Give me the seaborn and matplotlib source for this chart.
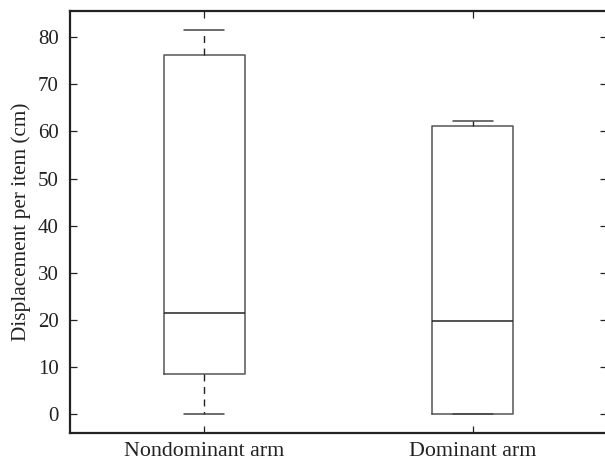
import numpy as np
import pandas as pd
import matplotlib
matplotlib.use("Agg")
import matplotlib.pyplot as plt
import seaborn as sns

# Five-number summaries (min, Q1, median, Q3, max)
categories = ["Nondominant arm", "Dominant arm"]
nondominant_values = [0.0, 8.5, 21.4, 76.1, 81.4]
dominant_values = [0.0, 0.1, 19.7, 61.2, 62.1]
y_ticks = [0, 10, 20, 30, 40, 50, 60, 70, 80]

sns.set_theme(style="white")
plt.rcParams["font.family"] = ["Liberation Serif", "DejaVu Serif"]

df = pd.DataFrame({
    "group": [categories[0]] * len(nondominant_values) + [categories[1]] * len(dominant_values),
    "value": nondominant_values + dominant_values,
})

fig = plt.figure(figsize=(6.05, 4.65), dpi=100)
ax = fig.add_axes([70 / 605, (465 - 433.3) / 465, 537 / 605, 422.3 / 465])

sns.boxplot(
    data=df, x="group", y="value", order=categories, ax=ax,
    whis=(0, 100), width=0.30, fill=False, color="#444444", linewidth=1.1,
    boxprops=dict(color="#555555"),
    medianprops=dict(color="#222222", linewidth=1.1),
    whiskerprops=dict(color="#222222", linestyle=(0, (5, 4)), linewidth=1.0),
    capprops=dict(color="#444444", linewidth=1.1),
    showfliers=False,
)

ax.set_xlim(-0.5, 1.5)
ax.set_ylim(-4.0, 85.5)
ax.set_yticks(y_ticks)
ax.set_xlabel("")
ax.set_ylabel("Displacement per item (cm)", fontsize=15.3, color="#222222", labelpad=5)
ax.tick_params(axis="both", direction="in", length=5, width=0.9, color="#222222",
               labelsize=15, labelcolor="#222222", pad=8,
               top=True, right=True, bottom=True, left=True)
ax.tick_params(axis="x", pad=6, labelsize=15.8)
for s in ax.spines.values():
    s.set_visible(True)
    s.set_color("#222222")
    s.set_linewidth(1.6)

fig.savefig("out.png", dpi=100, facecolor="white")
